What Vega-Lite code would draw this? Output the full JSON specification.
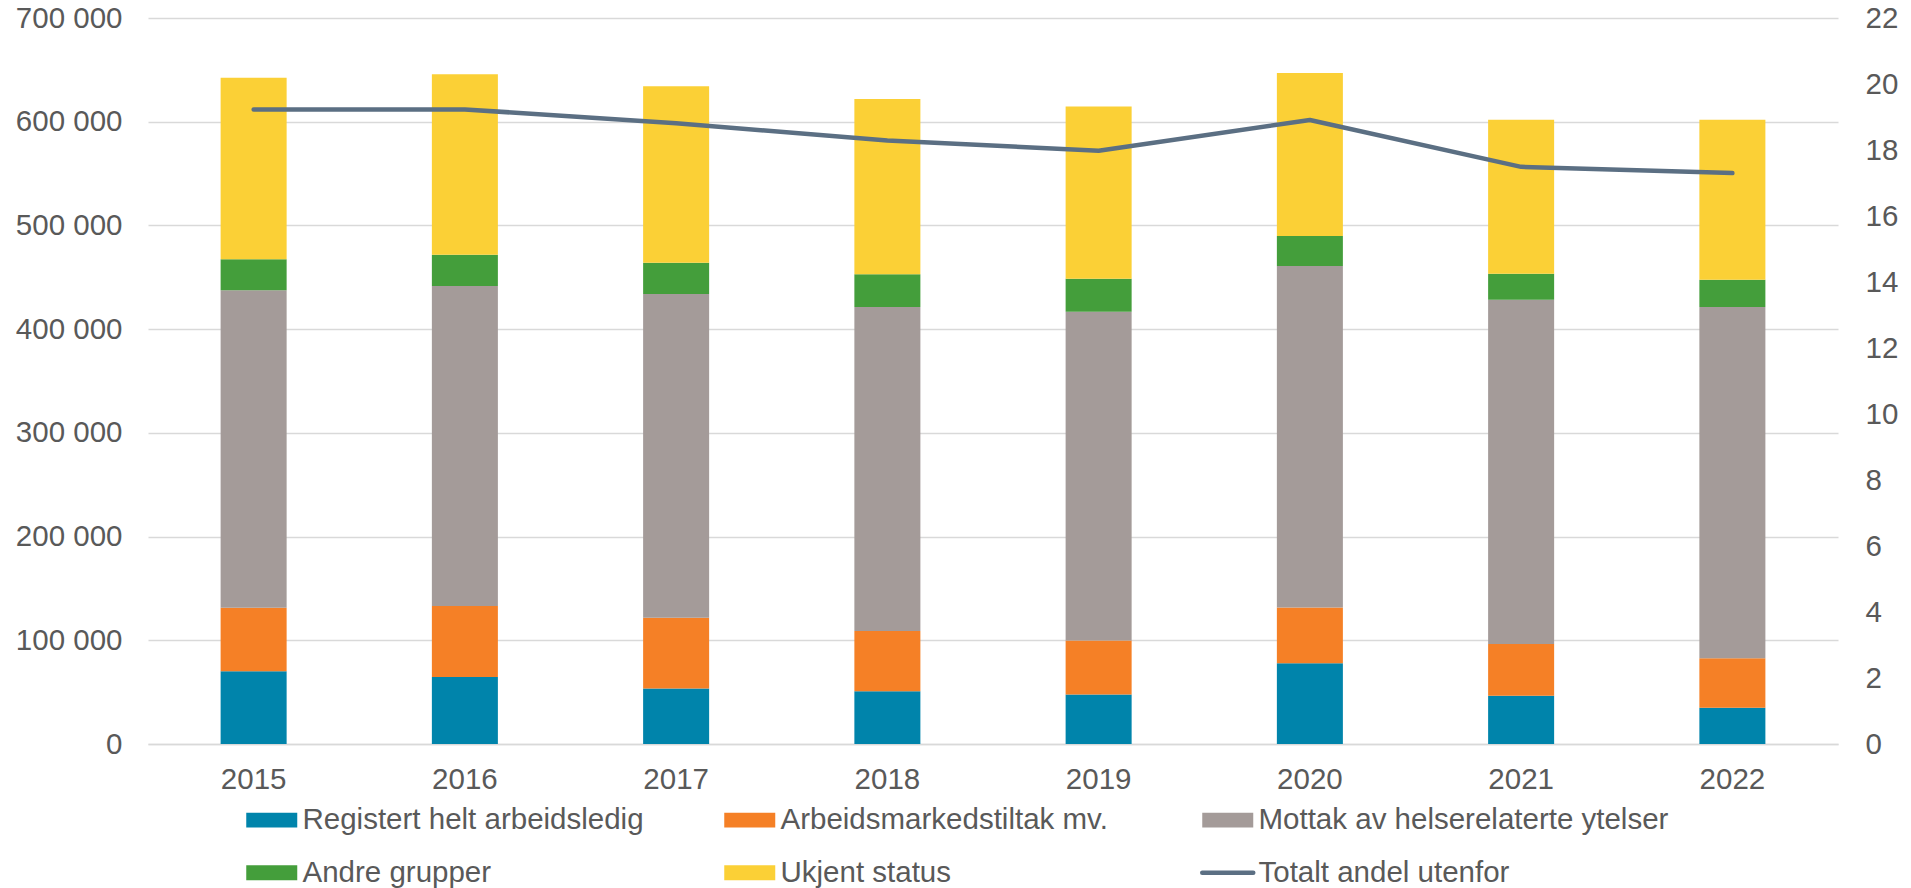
{
  "$schema": "https://vega.github.io/schema/vega-lite/v6.json",
  "autosize": "none",
  "width": 1690,
  "height": 726,
  "padding": {"left": 148, "top": 18, "right": 73, "bottom": 144},
  "background": "white",
  "config": {
    "view": {"stroke": null},
    "font": "Liberation Sans",
    "axis": {"labelFont": "Liberation Sans", "labelFontSize": 29.5, "labelColor": "#595959", "ticks": false, "domain": false, "title": null, "gridColor": "#D9D9D9", "gridWidth": 1.5},
    "legend": {"labelFont": "Liberation Sans", "labelFontSize": 29.5, "labelColor": "#595959"}
  },
  "datasets": {
    "bars": [
      {"aar": "2015", "serie": "Registert helt arbeidsledig", "nr": 1, "antall": 70200},
      {"aar": "2015", "serie": "Arbeidsmarkedstiltak mv.", "nr": 2, "antall": 61100},
      {"aar": "2015", "serie": "Mottak av helserelaterte ytelser", "nr": 3, "antall": 306100},
      {"aar": "2015", "serie": "Andre grupper", "nr": 4, "antall": 30100},
      {"aar": "2015", "serie": "Ukjent status", "nr": 5, "antall": 174800},
      {"aar": "2016", "serie": "Registert helt arbeidsledig", "nr": 1, "antall": 64600},
      {"aar": "2016", "serie": "Arbeidsmarkedstiltak mv.", "nr": 2, "antall": 68400},
      {"aar": "2016", "serie": "Mottak av helserelaterte ytelser", "nr": 3, "antall": 308700},
      {"aar": "2016", "serie": "Andre grupper", "nr": 4, "antall": 30100},
      {"aar": "2016", "serie": "Ukjent status", "nr": 5, "antall": 173900},
      {"aar": "2017", "serie": "Registert helt arbeidsledig", "nr": 1, "antall": 53400},
      {"aar": "2017", "serie": "Arbeidsmarkedstiltak mv.", "nr": 2, "antall": 68400},
      {"aar": "2017", "serie": "Mottak av helserelaterte ytelser", "nr": 3, "antall": 312100},
      {"aar": "2017", "serie": "Andre grupper", "nr": 4, "antall": 30100},
      {"aar": "2017", "serie": "Ukjent status", "nr": 5, "antall": 170100},
      {"aar": "2018", "serie": "Registert helt arbeidsledig", "nr": 1, "antall": 50800},
      {"aar": "2018", "serie": "Arbeidsmarkedstiltak mv.", "nr": 2, "antall": 58100},
      {"aar": "2018", "serie": "Mottak av helserelaterte ytelser", "nr": 3, "antall": 312500},
      {"aar": "2018", "serie": "Andre grupper", "nr": 4, "antall": 31500},
      {"aar": "2018", "serie": "Ukjent status", "nr": 5, "antall": 169100},
      {"aar": "2019", "serie": "Registert helt arbeidsledig", "nr": 1, "antall": 47800},
      {"aar": "2019", "serie": "Arbeidsmarkedstiltak mv.", "nr": 2, "antall": 52100},
      {"aar": "2019", "serie": "Mottak av helserelaterte ytelser", "nr": 3, "antall": 316800},
      {"aar": "2019", "serie": "Andre grupper", "nr": 4, "antall": 31900},
      {"aar": "2019", "serie": "Ukjent status", "nr": 5, "antall": 166100},
      {"aar": "2020", "serie": "Registert helt arbeidsledig", "nr": 1, "antall": 77900},
      {"aar": "2020", "serie": "Arbeidsmarkedstiltak mv.", "nr": 2, "antall": 53800},
      {"aar": "2020", "serie": "Mottak av helserelaterte ytelser", "nr": 3, "antall": 329300},
      {"aar": "2020", "serie": "Andre grupper", "nr": 4, "antall": 28900},
      {"aar": "2020", "serie": "Ukjent status", "nr": 5, "antall": 157100},
      {"aar": "2021", "serie": "Registert helt arbeidsledig", "nr": 1, "antall": 46500},
      {"aar": "2021", "serie": "Arbeidsmarkedstiltak mv.", "nr": 2, "antall": 49900},
      {"aar": "2021", "serie": "Mottak av helserelaterte ytelser", "nr": 3, "antall": 331900},
      {"aar": "2021", "serie": "Andre grupper", "nr": 4, "antall": 25000},
      {"aar": "2021", "serie": "Ukjent status", "nr": 5, "antall": 148500},
      {"aar": "2022", "serie": "Registert helt arbeidsledig", "nr": 1, "antall": 34900},
      {"aar": "2022", "serie": "Arbeidsmarkedstiltak mv.", "nr": 2, "antall": 47800},
      {"aar": "2022", "serie": "Mottak av helserelaterte ytelser", "nr": 3, "antall": 338700},
      {"aar": "2022", "serie": "Andre grupper", "nr": 4, "antall": 26300},
      {"aar": "2022", "serie": "Ukjent status", "nr": 5, "antall": 154100}
    ],
    "linje": [
      {"aar": "2015", "serie": "Totalt andel utenfor", "andel": 19.23},
      {"aar": "2016", "serie": "Totalt andel utenfor", "andel": 19.23},
      {"aar": "2017", "serie": "Totalt andel utenfor", "andel": 18.81},
      {"aar": "2018", "serie": "Totalt andel utenfor", "andel": 18.29},
      {"aar": "2019", "serie": "Totalt andel utenfor", "andel": 17.98},
      {"aar": "2020", "serie": "Totalt andel utenfor", "andel": 18.91},
      {"aar": "2021", "serie": "Totalt andel utenfor", "andel": 17.49},
      {"aar": "2022", "serie": "Totalt andel utenfor", "andel": 17.30}
    ]
  },
  "encoding": {
    "x": {
      "field": "aar", "type": "nominal",
      "scale": {"paddingInner": 0.6875, "paddingOuter": 0.34375},
      "axis": {"labelAngle": 0, "labelPadding": 21, "domain": true, "domainColor": "#D9D9D9", "domainWidth": 1.5, "grid": false}
    },
    "color": {
      "field": "serie", "type": "nominal",
      "scale": {
        "domain": ["Registert helt arbeidsledig", "Arbeidsmarkedstiltak mv.", "Mottak av helserelaterte ytelser", "Andre grupper", "Ukjent status", "Totalt andel utenfor"],
        "range": ["#0084AB", "#F58026", "#A49B99", "#449E3B", "#FBD036", "#5B6F83"]
      },
      "legend": {
        "title": null,
        "orient": "none",
        "legendX": 109,
        "legendY": 787,
        "direction": "horizontal",
        "columns": 3,
        "gridAlign": "all",
        "columnPadding": 2,
        "rowPadding": 22,
        "symbolSize": 2601,
        "labelOffset": 16,
        "labelLimit": 600,
        "symbolType": "M-1,-0.294H1V0.294H-1Z",
        "encode": {
          "symbols": {
            "update": {
              "shape": {"signal": "datum.label === 'Totalt andel utenfor' ? 'M-1,0H1' : 'M-1,-0.294H1V0.294H-1Z'"},
              "fill": {"signal": "datum.label === 'Totalt andel utenfor' ? 'transparent' : scale('color', datum.value)"},
              "stroke": {"signal": "scale('color', datum.value)"},
              "strokeWidth": {"signal": "datum.label === 'Totalt andel utenfor' ? 4.5 : 0"},
              "strokeCap": {"value": "round"},
              "opacity": {"value": 1}
            }
          }
        }
      }
    }
  },
  "layer": [
    {
      "data": {"name": "bars"},
      "mark": {"type": "bar"},
      "encoding": {
        "y": {
          "field": "antall", "type": "quantitative", "stack": "zero",
          "scale": {"domain": [0, 700000], "nice": false},
          "axis": {"orient": "left", "values": [0, 100000, 200000, 300000, 400000, 500000, 600000, 700000], "labelExpr": "replace(format(datum.value, ','), ',', ' ')", "labelPadding": 26, "grid": true}
        },
        "order": {"field": "nr", "type": "quantitative"}
      }
    },
    {
      "data": {"name": "linje"},
      "mark": {"type": "line", "strokeWidth": 4.5, "strokeCap": "round", "strokeJoin": "round"},
      "encoding": {
        "y": {
          "field": "andel", "type": "quantitative",
          "scale": {"domain": [0, 22], "nice": false},
          "axis": {"orient": "right", "values": [0, 2, 4, 6, 8, 10, 12, 14, 16, 18, 20, 22], "labelPadding": 27, "grid": false}
        }
      }
    }
  ],
  "resolve": {"scale": {"y": "independent"}}
}
